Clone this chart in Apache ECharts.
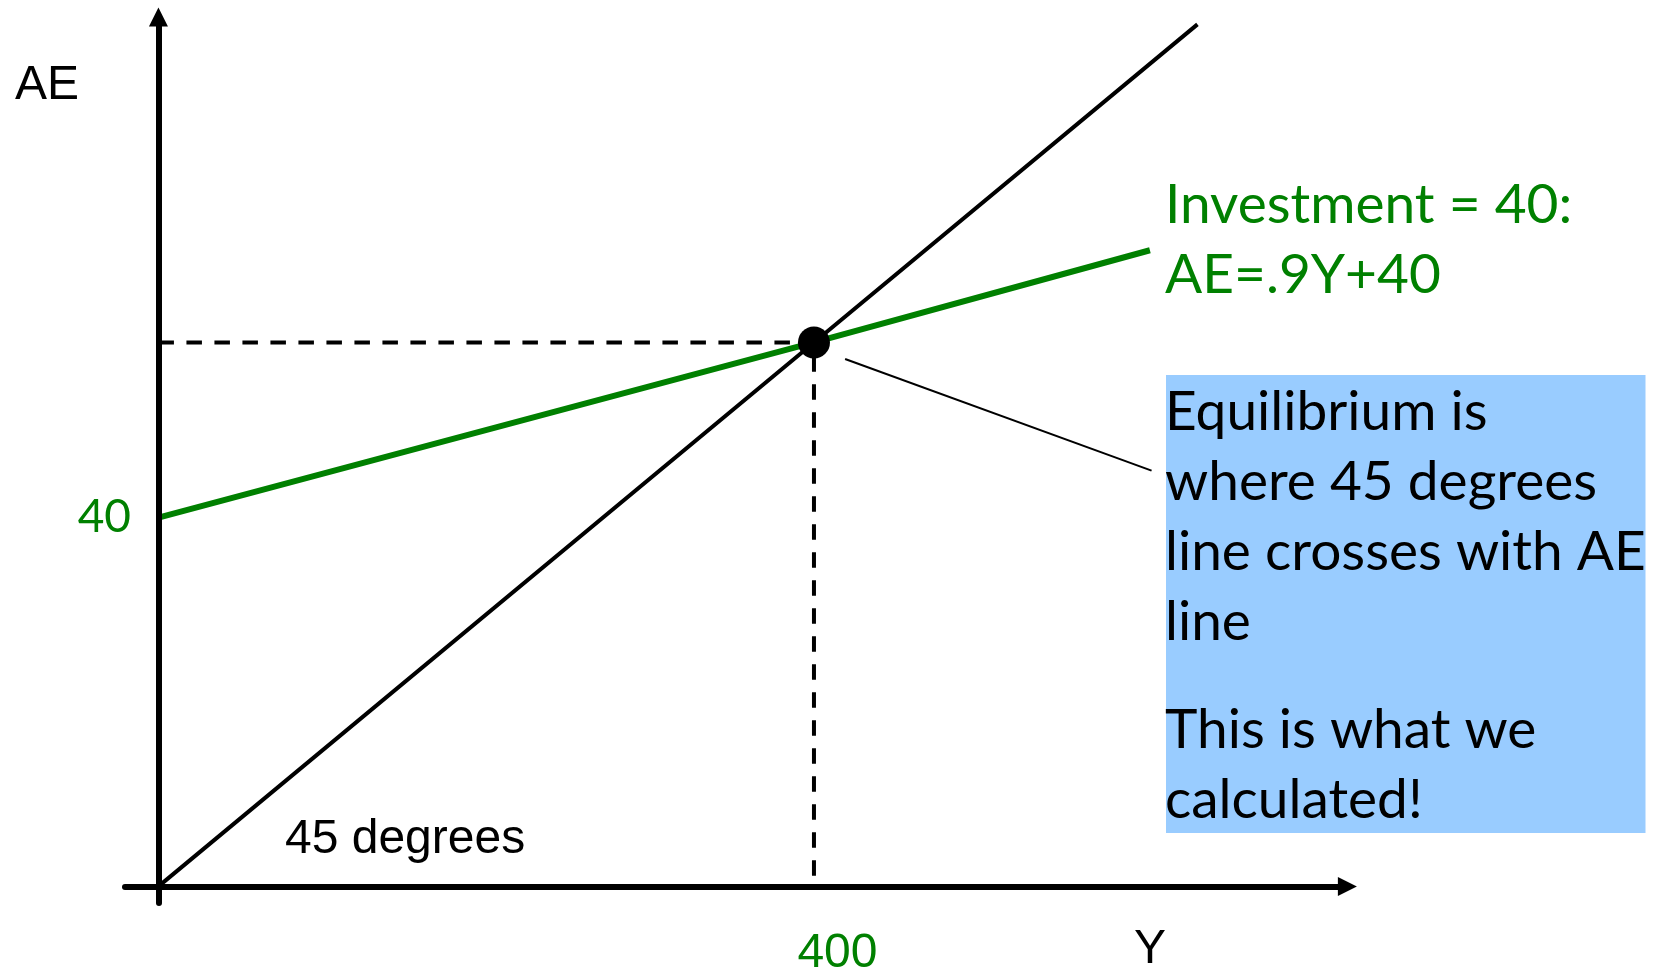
<!DOCTYPE html>
<html>
<head>
<meta charset="utf-8">
<script src="https://cdn.jsdelivr.net/npm/echarts@6/dist/echarts.min.js"></script>
<style>
  html, body { margin: 0; padding: 0; background: #ffffff; }
  #chart { width: 1657px; height: 970px; }
</style>
</head>
<body>
<div id="chart"></div>
<script>
// Keynesian cross: the 45-degree line against aggregate expenditure (AE)
// when investment is 40. The diagram is schematic, so each axis has its own scale.

// 45-degree line (output Y, AE)
const fortyFiveY  = [0, 400, 634];
const fortyFiveAE = [0, 59, 93.5];

// AE = .9Y + 40 line (output Y, AE)
const aeLineY  = [0, 400, 605];
const aeLineAE = [40, 59, 69];

// Equilibrium where the two lines cross
const equilibriumY  = 400;
const equilibriumAE = 59;

// Lower end of the vertical guide, just above the Y axis
const guideBottomAE = 1.15;

// Leader from the equilibrium point to the note box
const leaderY  = [419, 606];
const leaderAE = [57.2, 45.1];

// Tick labels shown on the axes
const yAxisTicks = [40];
const xAxisTicks = [400];

const GREEN = '#008000';
const CALIBRI_LIKE = 'Lato, "Open Sans", sans-serif';
const ARIAL_LIKE = '"Liberation Sans", Arial, sans-serif';

const zip = (xs, ys) => xs.map((x, i) => [x, ys[i]]);

const chart = echarts.init(document.getElementById('chart'), null, { renderer: 'canvas' });

chart.setOption({
  animation: false,
  backgroundColor: '#ffffff',
  grid: {
    left: 125, right: 309.6, top: 17, bottom: 67,
    containLabel: false,
    outerBoundsMode: 'none'
  },
  xAxis: {
    type: 'value',
    min: -20.4,
    max: 725.5,
    splitLine: { show: false },
    axisTick: { show: false },
    axisLine: {
      onZero: true,
      symbol: ['none', 'triangle'],
      symbolSize: [19, 19],
      lineStyle: { color: '#000000', width: 6 }
    },
    axisLabel: {
      customValues: xAxisTicks,
      margin: 26.6,
      padding: [0, 0, 0, 47],
      color: GREEN,
      fontFamily: ARIAL_LIKE,
      fontSize: 48
    },
    z: 10
  },
  yAxis: {
    type: 'value',
    min: -1.8,
    max: 94.3,
    splitLine: { show: false },
    axisTick: { show: false },
    axisLine: {
      onZero: true,
      symbol: ['none', 'triangle'],
      symbolSize: [19, 19],
      lineStyle: { color: '#000000', width: 6 }
    },
    axisLabel: {
      customValues: yAxisTicks,
      margin: -6,
      color: GREEN,
      fontFamily: CALIBRI_LIKE,
      fontSize: 46
    },
    z: 10
  },
  series: [
    {
      name: 'AE guide',
      type: 'line',
      silent: true,
      clip: false,
      symbol: 'none',
      lineStyle: { color: '#000000', width: 4, type: [15.5, 12.5] },
      data: [[0, equilibriumAE], [equilibriumY, equilibriumAE]],
      z: 2
    },
    {
      name: 'Y guide',
      type: 'line',
      silent: true,
      clip: false,
      symbol: 'none',
      lineStyle: { color: '#000000', width: 4, type: [15.5, 12.5] },
      data: [[equilibriumY, guideBottomAE], [equilibriumY, equilibriumAE]],
      z: 2
    },
    {
      name: '45 degrees',
      type: 'line',
      silent: true,
      clip: false,
      symbol: 'none',
      lineStyle: { color: '#000000', width: 4 },
      data: zip(fortyFiveY, fortyFiveAE),
      z: 3
    },
    {
      name: 'AE=.9Y+40',
      type: 'line',
      silent: true,
      clip: false,
      symbol: 'none',
      lineStyle: { color: GREEN, width: 6 },
      data: zip(aeLineY, aeLineAE),
      z: 4
    },
    {
      name: 'Leader',
      type: 'line',
      silent: true,
      clip: false,
      symbol: 'none',
      lineStyle: { color: '#000000', width: 2 },
      data: zip(leaderY, leaderAE),
      z: 4
    },
    {
      name: 'Equilibrium',
      type: 'scatter',
      silent: true,
      clip: false,
      symbol: 'circle',
      symbolSize: 32,
      itemStyle: { color: '#000000', opacity: 1 },
      data: [[equilibriumY, equilibriumAE]],
      z: 5
    }
  ],
  graphic: [
    {
      type: 'text', x: 15, y: 85.4, silent: true,
      style: { text: 'AE', fill: '#000000', font: '48px ' + ARIAL_LIKE, verticalAlign: 'middle' }
    },
    {
      type: 'text', x: 285, y: 840, silent: true,
      style: { text: '45 degrees', fill: '#000000', font: '48px ' + ARIAL_LIKE, verticalAlign: 'middle' }
    },
    {
      type: 'text', x: 1134, y: 949.4, silent: true,
      style: { text: 'Y', fill: '#000000', font: '48px ' + ARIAL_LIKE, verticalAlign: 'middle' }
    },
    {
      type: 'text', x: 1165, y: 170.7, silent: true,
      style: {
        text: 'Investment = 40:\nAE=.9Y+40',
        fill: GREEN, font: '55px ' + CALIBRI_LIKE, lineHeight: 70, verticalAlign: 'top'
      }
    },
    {
      type: 'rect', silent: true, z: 1,
      shape: { x: 1166, y: 375, width: 479.5, height: 458 },
      style: { fill: '#99CCFF' }
    },
    {
      type: 'text', x: 1165, y: 377.5, silent: true, z: 2,
      style: {
        text: 'Equilibrium is\nwhere 45 degrees\nline crosses with AE\nline',
        fill: '#000000', font: '55px ' + CALIBRI_LIKE, lineHeight: 70, verticalAlign: 'top'
      }
    },
    {
      type: 'text', x: 1165, y: 695, silent: true, z: 2,
      style: {
        text: 'This is what we\ncalculated!',
        fill: '#000000', font: '55px ' + CALIBRI_LIKE, lineHeight: 70, verticalAlign: 'top'
      }
    }
  ]
});
</script>
</body>
</html>
